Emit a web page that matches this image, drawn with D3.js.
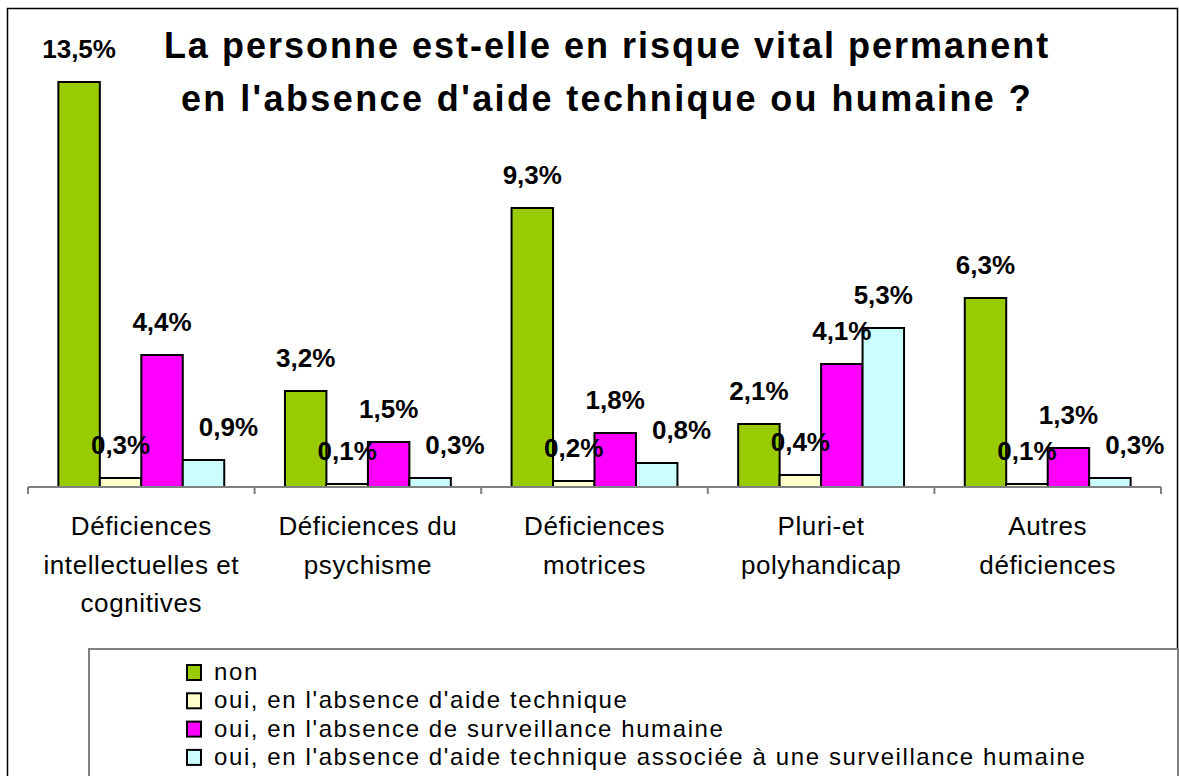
<!DOCTYPE html>
<html>
<head>
<meta charset="utf-8">
<script src="https://d3js.org/d3.v7.min.js"></script>
<style>
  html, body { margin: 0; padding: 0; background: #fff; }
  svg { display: block; font-family: Arial, "Liberation Sans", sans-serif; }
</style>
</head>
<body>
<svg id="chart" width="1179" height="776"></svg>
<script>
// Categories (each label split into its display lines)
const categories = [
  ["Déficiences", "intellectuelles et", "cognitives"],
  ["Déficiences du", "psychisme"],
  ["Déficiences", "motrices"],
  ["Pluri-et", "polyhandicap"],
  ["Autres", "déficiences"]
];

const seriesNames = [
  "non",
  "oui, en l'absence d'aide technique",
  "oui, en l'absence de surveillance humaine",
  "oui, en l'absence d'aide technique associée à une surveillance humaine"
];

const seriesColors = ["#99CC00", "#FFFFCC", "#FF00FF", "#CCFFFF"];

// Percentages per series, one value per category
const nonValues          = [13.5, 3.2, 9.3, 2.1, 6.3];
const aideTechValues     = [0.3, 0.1, 0.2, 0.4, 0.1];
const surveillanceValues = [4.4, 1.5, 1.8, 4.1, 1.3];
const associeeValues     = [0.9, 0.3, 0.8, 5.3, 0.3];

const titleLines = [
  "La personne est-elle en risque vital permanent",
  "en l'absence d'aide technique ou humaine ?"
];

const seriesValues = [nonValues, aideTechValues, surveillanceValues, associeeValues];

const svg = d3.select("#chart");

// Outer chart frame
svg.append("rect")
  .attr("x", 7.5).attr("y", 8.5)
  .attr("width", 1170).attr("height", 800)
  .attr("fill", "#fff").attr("stroke", "#000").attr("stroke-width", 1.5);

// Title
svg.append("g").selectAll("text")
  .data(titleLines)
  .join("text")
  .attr("x", 607)
  .attr("y", (d, i) => 58 + i * 53)
  .attr("text-anchor", "middle")
  .attr("font-size", 36)
  .attr("font-weight", "bold")
  .attr("letter-spacing", (d, i) => i === 0 ? 2.0 : 2.4)
  .text(d => d);

// Scales
const plotLeft = 28, plotRight = 1161, baseY = 487;
const x0 = d3.scaleBand()
  .domain(d3.range(categories.length))
  .range([plotLeft, plotRight])
  .padding(0);
const groupPad = x0.bandwidth() * 0.134;
const x1 = d3.scaleBand()
  .domain(d3.range(seriesNames.length))
  .range([groupPad, x0.bandwidth() - groupPad])
  .padding(0);
const y = d3.scaleLinear().domain([0, 14]).range([baseY, 67]);

// Bars
const groups = svg.append("g").selectAll("g")
  .data(categories.map((c, ci) => ({ ci, vals: seriesValues.map(s => s[ci]) })))
  .join("g")
  .attr("transform", d => `translate(${x0(d.ci)},0)`);

groups.selectAll("rect")
  .data(d => d.vals.map((v, si) => ({ v, si })))
  .join("rect")
  .attr("x", d => x1(d.si))
  .attr("y", d => y(d.v))
  .attr("width", x1.bandwidth())
  .attr("height", d => baseY - y(d.v))
  .attr("fill", d => seriesColors[d.si])
  .attr("stroke", "#000")
  .attr("stroke-width", 2);

// Category axis with tick marks at group boundaries
const axisG = svg.append("g").attr("transform", `translate(0,${baseY})`);
axisG.append("line")
  .attr("x1", plotLeft).attr("x2", plotRight)
  .attr("stroke", "#808080").attr("stroke-width", 2);
axisG.selectAll("line.tick")
  .data(d3.range(categories.length + 1))
  .join("line")
  .attr("class", "tick")
  .attr("x1", i => i < categories.length ? x0(i) : plotRight)
  .attr("x2", i => i < categories.length ? x0(i) : plotRight)
  .attr("y1", 0).attr("y2", 7)
  .attr("stroke", "#808080").attr("stroke-width", 2);

// Category labels
svg.append("g").selectAll("text")
  .data(categories.map((lines, ci) => ({ lines, ci })))
  .join("text")
  .attr("x", d => x0(d.ci) + x0.bandwidth() / 2)
  .attr("y", 535)
  .attr("text-anchor", "middle")
  .attr("font-size", 26)
  .attr("letter-spacing", 0.6)
  .each(function(d) {
    d3.select(this).selectAll("tspan")
      .data(d.lines)
      .join("tspan")
      .attr("x", x0(d.ci) + x0.bandwidth() / 2)
      .attr("dy", (l, i) => i === 0 ? 0 : 38.5)
      .text(l => l);
  });

// Value labels: the last series' label slides right when it sits under the previous bar's label
const fmt = v => d3.format(".1f")(v).replace(".", ",") + "%";
groups.selectAll("text")
  .data(d => d.vals.map((v, si) => ({ v, si, prev: si > 0 ? d.vals[si - 1] : null })))
  .join("text")
  .attr("x", d => x1(d.si) + x1.bandwidth() / 2 +
    (d.si === seriesNames.length - 1 && d.v < d.prev ? x1.bandwidth() * 0.6 : 0))
  .attr("y", d => y(d.v) - 24)
  .attr("text-anchor", "middle")
  .attr("font-size", 26)
  .attr("font-weight", "bold")
  .text(d => fmt(d.v));

// Legend
svg.append("rect")
  .attr("x", 89).attr("y", 649)
  .attr("width", 1089).attr("height", 200)
  .attr("fill", "#fff").attr("stroke", "#808080").attr("stroke-width", 2);

const legend = svg.append("g").selectAll("g")
  .data(seriesNames.map((name, si) => ({ name, si })))
  .join("g")
  .attr("transform", d => `translate(0,${680 + d.si * 28.3})`);
legend.append("rect")
  .attr("x", 187).attr("y", -15)
  .attr("width", 14).attr("height", 15)
  .attr("fill", d => seriesColors[d.si])
  .attr("stroke", "#000").attr("stroke-width", 2);
legend.append("text")
  .attr("x", 214).attr("y", 0)
  .attr("font-size", 24)
  .attr("letter-spacing", 1.6)
  .text(d => d.name);
</script>
</body>
</html>
